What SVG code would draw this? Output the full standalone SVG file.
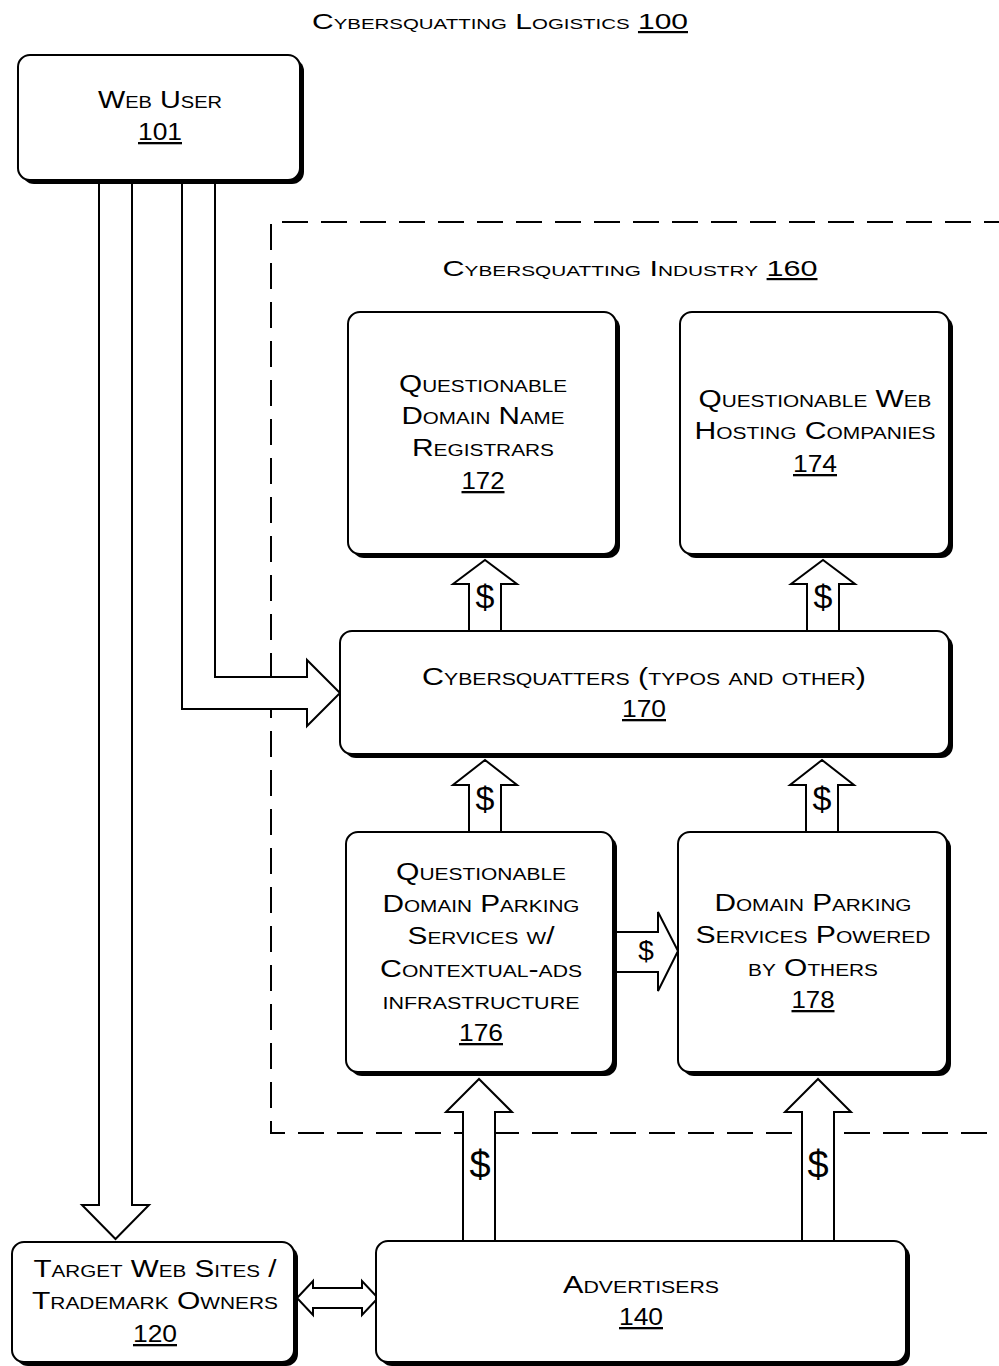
<svg xmlns="http://www.w3.org/2000/svg" width="999" height="1366" viewBox="0 0 999 1366">
<style>
.bg{fill:#fff}
.sh{fill:#000}
.bx{fill:#fff;stroke:#000;stroke-width:2}
.ar{fill:#fff;stroke:#000;stroke-width:2;stroke-linejoin:miter}
.dash{fill:none;stroke:#000;stroke-width:2;stroke-dasharray:26 13}
text{font-family:"Liberation Sans",Arial,sans-serif;font-size:23px;font-variant:small-caps;text-anchor:middle;fill:#000}
.t{font-size:22px}
.u{text-decoration:underline}
.d{font-variant:normal;font-size:34px}
</style>
<rect class="bg" x="0" y="0" width="999" height="1366"/>
<text class="t" x="500" y="29" textLength="376" lengthAdjust="spacingAndGlyphs">Cybersquatting Logistics <tspan class="u">100</tspan></text>
<path class="dash" d="M1010,222 H271 V1133 H1010"/>
<text class="t" x="630" y="276" textLength="375" lengthAdjust="spacingAndGlyphs">Cybersquatting Industry <tspan class="u">160</tspan></text>
<g id="connectors">
<path class="ar" d="M99,178 V1205 H82 L115.5,1239 L149,1205 H132 V178"/>
<path class="ar" d="M182,178 V709 H307 V726 L340,693 L307,660 V677 H215 V178"/>
<path class="ar" d="M469,631 V584 H453 L485,560 L517,584 H501 V631"/>
<path class="ar" d="M807,631 V584 H791 L823,560 L855,584 H839 V631"/>
<path class="ar" d="M469,832 V785 H453 L485,760 L517,785 H501 V832"/>
<path class="ar" d="M806,832 V785 H790 L822,760 L854,785 H838 V832"/>
<path class="ar" d="M463,1241 V1112 H446 L479,1079 L512,1112 H495 V1241"/>
<path class="ar" d="M802,1241 V1112 H785 L818,1079 L851,1112 H834 V1241"/>
<path class="ar" d="M616,932 H658 V912 L678,951 L658,991 V972 H616"/>
<path class="ar" d="M297,1298 L313,1281 V1288 H362 V1281 L378,1298 L362,1315 V1308 H313 V1315 Z"/>
<text class="d" x="485" y="608">$</text>
<text class="d" x="823" y="608">$</text>
<text class="d" x="485" y="810">$</text>
<text class="d" x="822" y="810">$</text>
<text class="d" x="480" y="1178" style="font-size:38px">$</text>
<text class="d" x="818" y="1178" style="font-size:38px">$</text>
<text class="d" x="646" y="960" style="font-size:28px">$</text>
</g>
<g id="web-user">
<rect class="sh" x="22" y="59" width="282" height="125" rx="12"/>
<rect class="bx" x="18" y="55" width="282" height="125" rx="12"/>
<text x="160" y="108" textLength="124" lengthAdjust="spacingAndGlyphs">Web User</text>
<text class="u" x="160" y="140" textLength="44" lengthAdjust="spacingAndGlyphs">101</text>
</g>
<g id="registrars">
<rect class="sh" x="352" y="316" width="268" height="242" rx="12"/>
<rect class="bx" x="348" y="312" width="268" height="242" rx="12"/>
<text x="483" y="392" textLength="168" lengthAdjust="spacingAndGlyphs">Questionable</text>
<text x="483" y="424" textLength="163" lengthAdjust="spacingAndGlyphs">Domain Name</text>
<text x="483" y="456" textLength="142" lengthAdjust="spacingAndGlyphs">Registrars</text>
<text class="u" x="483" y="489" textLength="43" lengthAdjust="spacingAndGlyphs">172</text>
</g>
<g id="hosting">
<rect class="sh" x="684" y="316" width="269" height="242" rx="12"/>
<rect class="bx" x="680" y="312" width="269" height="242" rx="12"/>
<text x="815" y="407" textLength="233" lengthAdjust="spacingAndGlyphs">Questionable Web</text>
<text x="815" y="439" textLength="241" lengthAdjust="spacingAndGlyphs">Hosting Companies</text>
<text class="u" x="815" y="472" textLength="44" lengthAdjust="spacingAndGlyphs">174</text>
</g>
<g id="cybersquatters">
<rect class="sh" x="344" y="635" width="609" height="123" rx="12"/>
<rect class="bx" x="340" y="631" width="609" height="123" rx="12"/>
<text x="644" y="685" textLength="444" lengthAdjust="spacingAndGlyphs">Cybersquatters (typos and other)</text>
<text class="u" x="644" y="717" textLength="44" lengthAdjust="spacingAndGlyphs">170</text>
</g>
<g id="parking-ads">
<rect class="sh" x="350" y="836" width="267" height="240" rx="12"/>
<rect class="bx" x="346" y="832" width="267" height="240" rx="12"/>
<text x="481" y="880" textLength="170" lengthAdjust="spacingAndGlyphs">Questionable</text>
<text x="481" y="912" textLength="197" lengthAdjust="spacingAndGlyphs">Domain Parking</text>
<text x="481" y="944" textLength="147" lengthAdjust="spacingAndGlyphs">Services w/</text>
<text x="481" y="977" textLength="202" lengthAdjust="spacingAndGlyphs">Contextual-ads</text>
<text x="481" y="1009" textLength="197" lengthAdjust="spacingAndGlyphs">infrastructure</text>
<text class="u" x="481" y="1041" textLength="44" lengthAdjust="spacingAndGlyphs">176</text>
</g>
<g id="parking-others">
<rect class="sh" x="682" y="836" width="269" height="240" rx="12"/>
<rect class="bx" x="678" y="832" width="269" height="240" rx="12"/>
<text x="813" y="911" textLength="197" lengthAdjust="spacingAndGlyphs">Domain Parking</text>
<text x="813" y="943" textLength="235" lengthAdjust="spacingAndGlyphs">Services Powered</text>
<text x="813" y="976" textLength="130" lengthAdjust="spacingAndGlyphs">by Others</text>
<text class="u" x="813" y="1008" textLength="43" lengthAdjust="spacingAndGlyphs">178</text>
</g>
<g id="target-sites">
<rect class="sh" x="16" y="1246" width="282" height="120" rx="12"/>
<rect class="bx" x="12" y="1242" width="282" height="120" rx="12"/>
<text x="155" y="1277" textLength="243" lengthAdjust="spacingAndGlyphs">Target Web Sites /</text>
<text x="155" y="1309" textLength="246" lengthAdjust="spacingAndGlyphs">Trademark Owners</text>
<text class="u" x="155" y="1342" textLength="44" lengthAdjust="spacingAndGlyphs">120</text>
</g>
<g id="advertisers">
<rect class="sh" x="380" y="1245" width="530" height="121" rx="12"/>
<rect class="bx" x="376" y="1241" width="530" height="121" rx="12"/>
<text x="641" y="1293" textLength="156" lengthAdjust="spacingAndGlyphs">Advertisers</text>
<text class="u" x="641" y="1325" textLength="44" lengthAdjust="spacingAndGlyphs">140</text>
</g>
</svg>
